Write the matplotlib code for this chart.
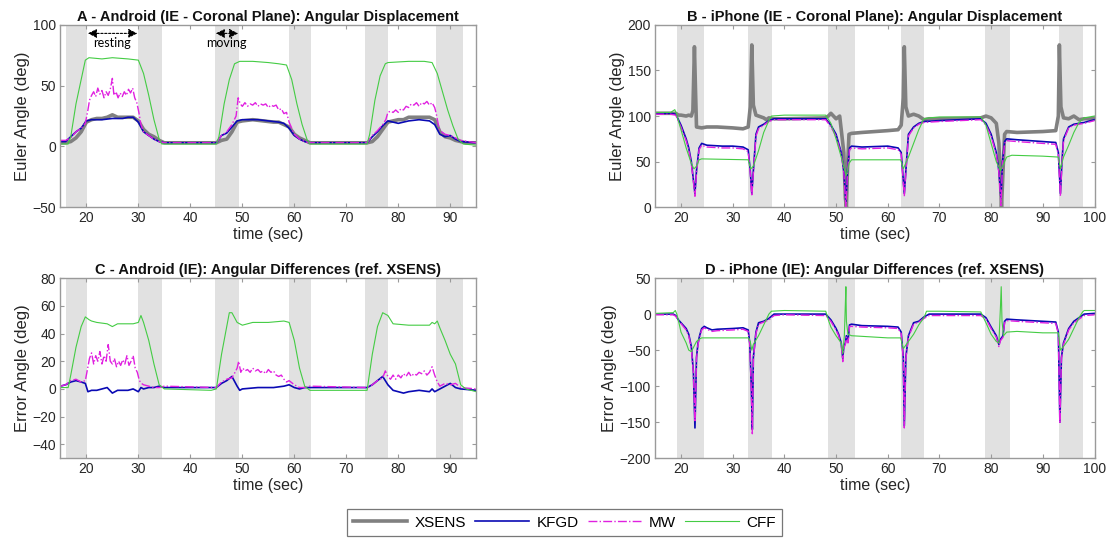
import matplotlib

matplotlib.use("Agg")
import matplotlib.pyplot as plt
import numpy as np

plt.rcParams["font.family"] = ["Liberation Sans", "DejaVu Sans"]

# gray bands (movement phases), seconds
BANDS_ANDROID = [(16.0, 20.1), (29.9, 34.5), (44.8, 49.3), (58.9, 63.3), (73.6, 78.0), (87.3, 92.5)]
BANDS_IPHONE = [(19.2, 24.4), (33.0, 37.6), (48.5, 53.6), (62.5, 67.1), (78.9, 83.6), (93.1, 97.7)]

# Panel A - Android angular displacement (time, deg)
A_XSENS = [(15, 3), (16, 3), (17, 4), (18, 7), (19, 12), (20, 20), (21, 22), (22, 23), (23, 23), (24, 24),
           (25, 26), (26, 24), (27, 24), (28, 24), (29, 24), (30, 21), (31, 14), (32, 10), (33, 8), (34, 5),
           (35, 3), (45, 3), (46, 5), (47, 6), (48, 12), (49, 20), (50, 21), (52, 22), (54, 21), (56, 20),
           (57, 20), (58, 18), (59, 16), (60, 10), (61, 7), (62, 5), (63, 3), (74, 3), (75, 4), (76, 8),
           (77, 14), (78, 20), (79, 21), (80, 22), (81, 22), (82, 24), (83, 24), (84, 24), (85, 24), (86, 24),
           (87, 22), (88, 12), (89, 8), (90, 7), (91, 5), (92, 4), (93, 3), (95, 3)]
A_KFGD = [(15, 4), (16, 4), (17, 8), (18, 12), (19, 15), (20, 21), (21, 22), (23, 22), (25, 23), (27, 23),
          (28, 24), (29, 24), (30, 20), (31, 12), (32, 9), (33, 6), (34, 4), (35, 3), (45, 3), (46, 9),
          (47, 11), (48, 16), (49, 21), (50, 22), (53, 22), (55, 21), (57, 20), (58, 19), (59, 15), (60, 9),
          (61, 6), (62, 4), (63, 3), (74, 3), (75, 8), (76, 12), (77, 17), (78, 21), (79, 20), (80, 19),
          (81, 20), (82, 21), (84, 22), (86, 21), (87, 18), (88, 10), (89, 8), (90, 9), (91, 6), (92, 4), (95, 3)]
A_MW = [(15, 5), (16, 5), (17, 7), (18, 12), (19, 15), (19.8, 19), (20.3, 30), (20.6, 38), (21, 42), (21.4, 45),
        (21.8, 41), (22.2, 48), (22.6, 43), (23, 46), (23.4, 40), (23.8, 45), (24.2, 42), (24.6, 47), (25, 56),
        (25.3, 42), (25.7, 45), (26.1, 40), (26.5, 44), (26.9, 41), (27.3, 45), (27.7, 42), (28.1, 47),
        (28.5, 44), (28.9, 48), (29.3, 40), (29.7, 36), (30.1, 28), (30.5, 18), (31, 12), (32, 9), (33, 6),
        (34, 4), (35, 3), (45, 3), (46, 9), (47, 12), (48, 18), (48.8, 25), (49.2, 40), (49.6, 35), (50, 33),
        (50.5, 36), (51, 33), (51.5, 35), (52, 34), (52.5, 36), (53, 33), (53.5, 35), (54, 34), (54.5, 35),
        (55, 32), (55.5, 34), (56, 33), (56.5, 34), (57, 30), (57.5, 31), (58, 27), (58.5, 28), (59, 20),
        (60, 10), (61, 6), (62, 4), (63, 3), (74, 3), (75, 9), (76, 13), (77, 18), (77.6, 22), (78, 28),
        (78.5, 29), (79, 28), (79.5, 30), (80, 28), (80.5, 31), (81, 30), (81.5, 33), (82, 32), (82.5, 35),
        (83, 34), (83.5, 36), (84, 33), (84.5, 36), (85, 35), (85.5, 37), (86, 34), (86.5, 36), (87, 32),
        (87.3, 27), (87.7, 18), (88, 13), (89, 10), (90, 9), (91, 7), (92, 5), (95, 3)]
A_CFF = [(15, 2), (16.5, 2), (17, 8), (18, 35), (19, 55), (19.8, 71), (20.5, 73), (23, 72), (25, 73), (28, 72),
         (30, 71), (31, 60), (32, 42), (33, 22), (34, 6), (34.5, 2), (45, 2), (45.5, 8), (46.5, 35), (47.5, 55),
         (48.5, 68), (49.5, 70), (52, 70), (55, 69), (57, 68), (58.5, 67), (59.5, 55), (60.5, 35), (61.5, 18),
         (62.5, 5), (63, 2), (74, 2), (74.5, 10), (75.5, 38), (76.5, 58), (77.5, 68), (78, 69), (82, 70),
         (85, 70), (86.5, 69), (87.5, 60), (88.5, 45), (89.5, 30), (90.5, 17), (91.5, 6), (92.5, 2), (95, 1)]

# Panel B - iPhone angular displacement
B_XSENS = [(15, 103), (19, 103), (19.5, 101), (20, 101), (21, 100), (21.5, 101), (22, 100), (22.3, 106),
           (22.6, 176), (22.8, 130), (23, 88), (24, 87), (25, 88), (27, 88), (30, 87), (32, 86), (33, 88),
           (33.4, 110), (33.7, 178), (34, 112), (34.5, 101), (35, 100), (36, 98), (36.5, 96), (37, 98), (38, 97),
           (40, 97), (48, 98), (48.5, 100), (49, 103), (49.5, 100), (50, 97), (50.7, 100), (51, 85), (51.5, 60),
           (51.8, 10), (52, 0), (52.2, 40), (52.5, 80), (53, 81), (55, 82), (60, 84), (62, 85), (62.6, 90),
           (63, 120), (63.2, 176), (63.5, 110), (64, 100), (65, 102), (66, 100), (67, 96), (68, 97), (70, 97),
           (78, 98), (79, 100), (80, 98), (81, 92), (81.5, 70), (81.8, 30), (82, 0), (82.3, 40), (82.6, 80),
           (83, 83), (85, 82), (90, 83), (92.5, 84), (93, 100), (93.2, 178), (93.5, 110), (94, 98), (95, 97),
           (96, 100), (96.5, 98), (97, 96), (98, 97), (100, 97)]
B_KFGD = [(15, 103), (18, 103), (19, 102), (20, 90), (21, 75), (21.5, 65), (22, 50), (22.4, 30), (22.7, 15),
          (23, 40), (23.5, 65), (24, 70), (25, 68), (28, 67), (30, 67), (32, 66), (33, 63), (33.4, 40),
          (33.7, 15), (34, 40), (34.5, 80), (35, 88), (36, 91), (37, 95), (38, 97), (45, 97), (48, 97), (49, 90),
          (50, 80), (51, 60), (51.5, 40), (51.9, 5), (52.2, 40), (52.6, 65), (53, 67), (55, 66), (60, 67),
          (62, 65), (62.6, 60), (63.2, 15), (63.5, 40), (64, 80), (65, 88), (66, 92), (67, 94), (70, 95),
          (78, 97), (79, 92), (80, 80), (81, 60), (81.5, 40), (81.9, 10), (82.2, 50), (82.6, 72), (83, 75),
          (85, 74), (90, 72), (92.5, 71), (93, 60), (93.4, 15), (93.7, 50), (94, 75), (95, 88), (96, 91),
          (98, 93), (100, 96)]
B_MW = [(15, 102), (18, 102), (19, 101), (20, 88), (21, 73), (21.5, 63), (22, 48), (22.4, 28), (22.7, 12),
        (23, 38), (23.5, 63), (24, 68), (25, 66), (28, 65), (30, 65), (32, 64), (33, 61), (33.4, 38), (33.7, 12),
        (34, 38), (34.5, 78), (35, 86), (36, 90), (37, 94), (38, 96), (45, 96), (48, 96), (49, 88), (50, 78),
        (51, 58), (51.5, 38), (51.9, 0), (52.2, 38), (52.6, 63), (53, 65), (55, 64), (60, 65), (62, 63),
        (62.6, 58), (63.2, 12), (63.5, 38), (64, 78), (65, 87), (66, 91), (67, 93), (70, 94), (78, 96), (79, 90),
        (80, 78), (81, 58), (81.5, 38), (81.9, 2), (82.2, 48), (82.6, 70), (83, 73), (85, 72), (90, 70),
        (92.5, 69), (93, 58), (93.4, 12), (93.7, 48), (94, 73), (95, 87), (96, 90), (98, 92), (100, 95)]
B_CFF = [(15, 104), (18, 104), (18.8, 107), (19.1, 103), (20, 85), (21, 65), (22, 48), (22.5, 42), (23, 45),
         (23.5, 52), (24, 53), (33, 52), (33.5, 42), (34, 45), (35, 62), (36, 82), (37, 95), (37.5, 100),
         (40, 101), (48, 101), (49, 92), (50, 75), (51, 55), (51.7, 40), (52, 35), (52.5, 48), (53, 52),
         (60, 52), (62.5, 52), (63, 42), (64, 55), (65, 70), (66, 85), (67, 97), (68, 98), (70, 99), (78, 99),
         (79, 90), (80, 70), (81, 50), (81.8, 40), (82.2, 45), (83, 55), (84, 57), (90, 56), (93, 55),
         (93.4, 42), (94, 55), (95, 68), (96, 82), (97, 93), (98, 98), (100, 100)]

# Panel C - Android angular differences (ref. XSENS)
C_KFGD = [(15, 2), (16, 3), (17, 5), (18, 6), (19, 5), (19.8, 4), (20.3, -2), (21, -1), (22, -1), (23, 0),
          (24, 1), (25, -3), (26, -1), (27, -1), (28, -1), (29, 0), (30, -2), (30.5, 1), (31, 0), (32, 1),
          (33, 1), (34, 2), (35, 1), (45, 1), (46, 4), (47, 6), (48, 9), (49, 2), (49.5, -1), (50, 0), (53, 1),
          (56, 1), (58, 2), (59, 3), (60, 1), (61, 0), (62, 1), (63, 1), (74, 1), (75, 3), (76, 6), (77, 9),
          (78, 3), (79, -1), (80, -2), (81, -3), (82, -2), (84, -1), (86, -2), (86.5, 0), (87, -2), (88, 0),
          (89, 2), (90, 4), (91, 1), (92, 0), (95, -1)]
C_MW = [(15, 2), (16, 3), (17, 6), (18, 7), (19, 5), (19.8, 6), (20.2, 14), (20.6, 22), (21, 26), (21.4, 18),
        (21.8, 24), (22.2, 20), (22.6, 27), (23, 18), (23.4, 24), (23.8, 20), (24.2, 32), (24.6, 20), (25, 18),
        (25.4, 22), (25.8, 16), (26.2, 20), (26.6, 17), (27, 21), (27.4, 18), (27.8, 24), (28.2, 17),
        (28.6, 20), (29, 24), (29.4, 15), (29.8, 12), (30.2, 6), (30.6, 4), (31, 3), (32, 2), (33, 1), (34, 1),
        (35, 2), (45, 1), (46, 5), (47, 7), (48, 8), (48.6, 12), (49, 15), (49.3, 20), (49.7, 12), (50.1, 15),
        (50.5, 13), (51, 14), (51.5, 12), (52, 15), (52.5, 13), (53, 14), (53.5, 12), (54, 13), (54.5, 11),
        (55, 14), (55.5, 12), (56, 13), (56.5, 10), (57, 9), (57.5, 10), (58, 7), (58.5, 5), (59, 6), (60, 3),
        (61, 1), (62, 1), (63, 2), (74, 1), (75, 3), (76, 6), (77, 8), (77.5, 13), (78, 9), (78.5, 7), (79, 10),
        (79.5, 7), (80, 10), (80.5, 8), (81, 11), (81.5, 9), (82, 12), (82.5, 9), (83, 11), (83.5, 10),
        (84, 12), (84.5, 11), (85, 13), (85.5, 10), (86, 12), (86.5, 16), (87, 10), (87.5, 5), (88, 2), (89, 4),
        (90, 3), (91, 4), (92, 1), (95, 0)]
C_CFF = [(15, 1), (16.5, 1), (17, 10), (18, 30), (19, 45), (19.8, 52), (20.5, 50), (21, 49), (22, 48),
         (24, 47), (25, 45), (26, 47), (29, 47), (30, 48), (30.5, 53), (31, 48), (32, 35), (33, 18), (34, 3),
         (35, 0), (44, -1), (45, 0), (46, 25), (47, 45), (47.5, 55), (48, 55), (49, 48), (50, 46), (52, 48),
         (55, 48), (58, 49), (59, 48), (60, 35), (61, 15), (62, 2), (63, -1), (74, -1), (75, 25), (76, 45),
         (77, 55), (78, 53), (79, 47), (82, 46), (86, 46), (86.5, 48), (87, 47), (87.5, 49), (88, 44), (89, 35),
         (90, 25), (91, 18), (92, 3), (93, 0), (95, -2)]

# Panel D - iPhone angular differences (ref. XSENS)
D_KFGD = [(15, 0), (18.5, 0), (19, -2), (19.5, -8), (20, -12), (21, -20), (21.5, -28), (22, -45), (22.4, -80),
          (22.7, -158), (23, -60), (23.3, -40), (23.6, -30), (24, -20), (24.5, -17), (25, -19), (26, -22),
          (27, -21), (30, -20), (32, -19), (33, -22), (33.3, -40), (33.6, -100), (33.8, -160), (34, -60),
          (34.5, -25), (35, -12), (36, -10), (37, -6), (38, 0), (40, 0), (48, 0), (49, -8), (50, -20),
          (50.5, -28), (51, -40), (51.3, -62), (51.5, -45), (51.8, -40), (52, -30), (52.3, -38), (52.6, -15),
          (53, -14), (55, -16), (60, -17), (62, -18), (62.6, -25), (63, -60), (63.2, -155), (63.5, -60),
          (64, -30), (65, -12), (66, -10), (67, -4), (68, 0), (78, 0), (79, -5), (80, -18), (81, -30),
          (81.5, -42), (81.8, -35), (82, -33), (82.3, -30), (82.6, -10), (83, -7), (85, -8), (90, -10),
          (92.5, -11), (93, -25), (93.3, -150), (93.6, -60), (94, -40), (95, -20), (96, -10), (97, -5), (98, 0),
          (100, 1)]
D_MW = [(15, -1), (18.5, -1), (19, -3), (19.5, -9), (20, -13), (21, -22), (21.5, -30), (22, -47), (22.4, -82),
        (22.7, -150), (23, -62), (23.3, -42), (23.6, -32), (24, -22), (24.5, -19), (25, -21), (26, -24),
        (27, -23), (30, -22), (32, -21), (33, -24), (33.3, -42), (33.6, -105), (33.8, -166), (34, -62),
        (34.5, -27), (35, -14), (36, -11), (37, -8), (38, -2), (40, -1), (48, -2), (49, -10), (50, -22),
        (50.5, -30), (51, -42), (51.3, -66), (51.5, -47), (51.8, -42), (52, -32), (52.3, -40), (52.6, -17),
        (53, -17), (55, -18), (60, -19), (62, -20), (62.6, -27), (63, -62), (63.2, -158), (63.5, -62),
        (64, -32), (65, -14), (66, -11), (67, -6), (68, -2), (78, -2), (79, -7), (80, -20), (81, -32),
        (81.5, -45), (81.8, -37), (82, -35), (82.3, -32), (82.6, -12), (83, -9), (85, -10), (90, -12),
        (92.5, -13), (93, -27), (93.3, -152), (93.6, -62), (94, -42), (95, -22), (96, -12), (97, -7), (98, -2),
        (100, -1)]
D_CFF = [(15, 1), (18.5, 2), (18.9, 5), (19.2, 0), (19.6, -12), (20, -25), (21, -40), (21.5, -50), (22, -52),
         (22.5, -45), (23, -38), (23.5, -35), (24, -33), (33, -33), (33.4, -38), (33.7, -50), (34, -42),
         (35, -30), (36, -15), (37, 0), (37.5, 4), (40, 5), (48, 4), (48.6, -10), (49, -18), (50, -30),
         (51, -40), (51.3, -55), (51.6, -30), (51.8, 15), (51.9, 38), (52.0, -10), (52.3, -28), (53, -30),
         (60, -33), (62.5, -33), (63, -48), (63.3, -45), (64, -38), (65, -28), (66, -15), (67, -5), (67.5, 4),
         (70, 4), (78, 3), (79, -12), (80, -28), (81, -38), (81.5, -40), (81.8, 10), (81.95, 38), (82.1, -10),
         (82.4, -30), (83, -25), (85, -24), (90, -26), (93, -26), (93.4, -50), (94, -45), (95, -35), (96, -20),
         (97, -5), (97.7, 3), (98, 5), (100, 5)]

STYLES = {
    "XSENS": dict(color="#808080", lw=2.6, ls="-"),
    "KFGD": dict(color="#0a0ab4", lw=1.2, ls="-"),
    "MW": dict(color="#e020e0", lw=1.0, ls="-."),
    "CFF": dict(color="#44cc44", lw=0.8, ls="-"),
}

EDGE = "#9a9a9a"
TXT = "#262626"


def style_axes(ax, xlim, ylim, yticks, bands, title, ylabel):
    for lo, hi in bands:
        ax.axvspan(lo, hi, color="#e1e1e1", lw=0, zorder=0)
    ax.set_xlim(*xlim)
    ax.set_ylim(*ylim)
    ax.set_yticks(yticks)
    ax.set_xticks(np.arange(20, xlim[1] + 1, 10))
    ax.tick_params(direction="in", top=True, right=True, length=3, width=0.8, color=EDGE,
                   labelsize=10, labelcolor=TXT, pad=3)
    for sp in ax.spines.values():
        sp.set_color(EDGE)
        sp.set_linewidth(1.0)
    ax.set_title(title, fontsize=10.5, fontweight="bold", color="#111111", pad=3)
    ax.set_xlabel("time (sec)", fontsize=11.5, color=TXT, labelpad=1)
    ax.set_ylabel(ylabel, fontsize=12, color=TXT, labelpad=2)


def draw(ax, series):
    handles = []
    for name, pts in series:
        t, v = np.array(pts, dtype=float).T
        (ln,) = ax.plot(t, v, label=name, **STYLES[name])
        handles.append(ln)
    return handles


fig = plt.figure(figsize=(11.18, 5.41), dpi=100)
ax_a = fig.add_axes([0.054, 0.617, 0.372, 0.337])
ax_b = fig.add_axes([0.586, 0.617, 0.393, 0.337])
ax_c = fig.add_axes([0.054, 0.153, 0.372, 0.333])
ax_d = fig.add_axes([0.586, 0.153, 0.393, 0.333])

handles = draw(ax_a, [("XSENS", A_XSENS), ("KFGD", A_KFGD), ("MW", A_MW), ("CFF", A_CFF)])
style_axes(ax_a, (15, 95), (-50, 100), [-50, 0, 50, 100], BANDS_ANDROID,
           "A - Android (IE - Coronal Plane): Angular Displacement", "Euler Angle (deg)")

draw(ax_b, [("XSENS", B_XSENS), ("KFGD", B_KFGD), ("MW", B_MW), ("CFF", B_CFF)])
style_axes(ax_b, (15, 100), (0, 200), [0, 50, 100, 150, 200], BANDS_IPHONE,
           "B - iPhone (IE - Coronal Plane): Angular Displacement", "Euler Angle (deg)")

draw(ax_c, [("KFGD", C_KFGD), ("MW", C_MW), ("CFF", C_CFF)])
style_axes(ax_c, (15, 95), (-50, 80), [-40, -20, 0, 20, 40, 60, 80], BANDS_ANDROID,
           "C - Android (IE): Angular Differences (ref. XSENS)", "Error Angle (deg)")

draw(ax_d, [("KFGD", D_KFGD), ("MW", D_MW), ("CFF", D_CFF)])
style_axes(ax_d, (15, 100), (-200, 50), [-200, -150, -100, -50, 0, 50], BANDS_IPHONE,
           "D - iPhone (IE): Angular Differences (ref. XSENS)", "Error Angle (deg)")

# "resting" / "moving" markers in panel A
arrow_kw = dict(arrowstyle="<|-|>", color="black", lw=0.8, linestyle=(0, (2, 1.5)),
                mutation_scale=13, shrinkA=0, shrinkB=0)
ax_a.annotate("", xy=(29.8, 93), xytext=(20.3, 93), arrowprops=arrow_kw)
ax_a.annotate("", xy=(49.2, 93), xytext=(44.9, 93), arrowprops=arrow_kw)
ax_a.text(25.0, 85.5, "resting", ha="center", va="center", fontsize=9, family=["Lato", "DejaVu Sans"])
ax_a.text(47.0, 85.5, "moving", ha="center", va="center", fontsize=9, family=["Lato", "DejaVu Sans"])

leg = fig.legend(handles=handles, loc="center", bbox_to_anchor=(0.505, 0.034), ncol=4, fontsize=11,
                 frameon=True, fancybox=False, edgecolor="#555555", handlelength=3.5, handletextpad=0.5,
                 columnspacing=0.6, borderpad=0.4)
leg.get_frame().set_linewidth(0.9)

fig.savefig("out.png", dpi=100)
